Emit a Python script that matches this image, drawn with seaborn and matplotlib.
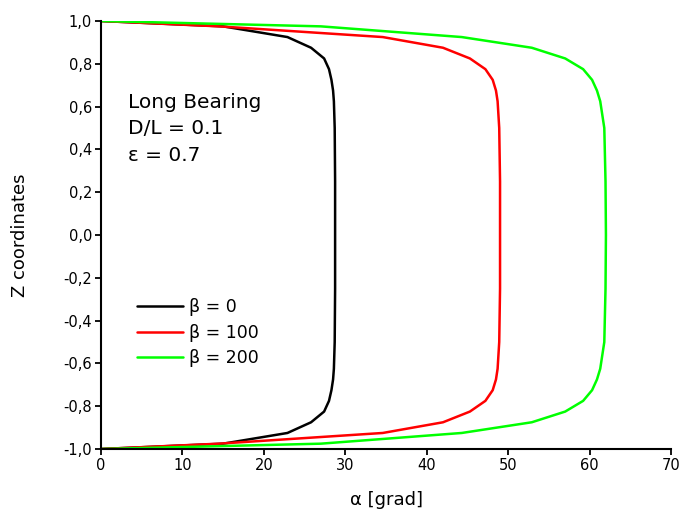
import matplotlib
matplotlib.use("Agg")
import matplotlib.pyplot as plt
import seaborn as sns
import pandas as pd

# Axial coordinate along the bearing
z_coord = [1.0, 0.975, 0.925, 0.875, 0.825, 0.775, 0.725, 0.675, 0.625, 0.5, 0.25, 0.0,
           -0.25, -0.5, -0.625, -0.675, -0.725, -0.775, -0.825, -0.875, -0.925, -0.975, -1.0]

# Angle alpha [grad] for each beta
alpha_beta0 = [0, 15.0, 22.9, 25.8, 27.4, 28.0, 28.3, 28.5, 28.6, 28.7, 28.75, 28.75,
               28.75, 28.7, 28.6, 28.5, 28.3, 28.0, 27.4, 25.8, 22.9, 15.0, 0]
alpha_beta100 = [0, 14.5, 34.6, 42.0, 45.3, 47.2, 48.1, 48.5, 48.7, 48.9, 49.0, 49.0,
                 49.0, 48.9, 48.7, 48.5, 48.1, 47.2, 45.3, 42.0, 34.6, 14.5, 0]
alpha_beta200 = [0, 27.0, 44.3, 52.9, 57.0, 59.2, 60.3, 60.9, 61.3, 61.8, 61.95, 62.0,
                 61.95, 61.8, 61.3, 60.9, 60.3, 59.2, 57.0, 52.9, 44.3, 27.0, 0]

labels = ["β = 0", "β = 100", "β = 200"]
colors = ["#000000", "#ff0000", "#00ff00"]

x_ticks = [0, 10, 20, 30, 40, 50, 60, 70]
y_ticks = [-1.0, -0.8, -0.6, -0.4, -0.2, 0.0, 0.2, 0.4, 0.6, 0.8, 1.0]

notes = ["Long Bearing", "D/L = 0.1", "ε = 0.7"]

frames = []
for lab, vals in zip(labels, [alpha_beta0, alpha_beta100, alpha_beta200]):
    frames.append(pd.DataFrame({"alpha": vals, "z": z_coord, "series": lab}))
df = pd.concat(frames, ignore_index=True)

sns.set_style("white")
plt.rcParams["font.family"] = ["DejaVu Sans"]
plt.rcParams.update({"text.color": "black", "axes.labelcolor": "black",
                     "xtick.color": "black", "ytick.color": "black"})

fig = plt.figure(figsize=(6.82, 5.2), dpi=100)
ax = fig.add_axes([0.148, 0.1365, 0.836, 0.8231])

sns.lineplot(data=df, x="alpha", y="z", hue="series", palette=colors,
             hue_order=labels, sort=False, estimator=None, linewidth=1.8, ax=ax)

ax.set_xlim(0, 70)
ax.set_ylim(-1.0, 1.0)
ax.set_xticks(x_ticks)
ax.set_yticks(y_ticks)
ax.set_xticklabels([str(t) for t in x_ticks])
ax.set_yticklabels([f"{t:.1f}".replace(".", ",").replace("-0,0", "0,0") for t in y_ticks])
ax.tick_params(axis="both", direction="out", length=4.5, width=1.3, color="black",
               labelcolor="black", labelsize=10.5, pad=2, left=True, bottom=True)

for side in ["top", "right"]:
    ax.spines[side].set_visible(False)
for side in ["left", "bottom"]:
    ax.spines[side].set_color("black")
    ax.spines[side].set_linewidth(1.5)

ax.set_xlabel("α [grad]", fontsize=13, color="black")
ax.set_ylabel("Z coordinates", fontsize=13, color="black")
ax.xaxis.set_label_coords(0.5, -0.098)
ax.yaxis.set_label_coords(-0.127, 0.5)

for txt, yb in zip(notes, [0.796, 0.735, 0.672]):
    ax.text(0.048, yb, txt, transform=ax.transAxes, fontsize=14.5,
            va="baseline", ha="left", color="black")

leg = ax.legend(loc="upper left", bbox_to_anchor=(0.0626, 0.352), frameon=False,
                fontsize=12.5, handlelength=2.68, handletextpad=0.32, labelspacing=0.42,
                borderpad=0, borderaxespad=0)
for line in leg.get_lines():
    line.set_linewidth(1.8)
for t in leg.get_texts():
    t.set_color("black")

fig.savefig("out.png", dpi=100)
